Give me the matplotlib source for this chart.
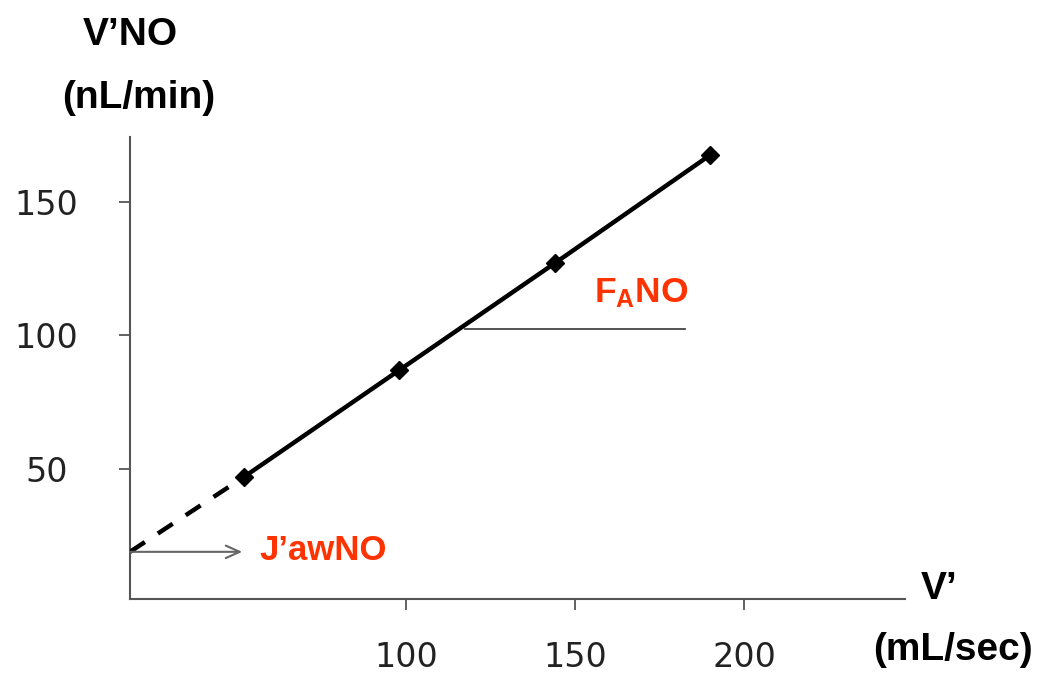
import numpy as np
import matplotlib
matplotlib.use("Agg")
import matplotlib.pyplot as plt

plt.rcParams['font.family'] = ['Liberation Sans', 'DejaVu Sans']
plt.rcParams['mathtext.fontset'] = 'custom'
plt.rcParams['mathtext.bf'] = 'Liberation Sans:bold'
plt.rcParams['mathtext.rm'] = 'Liberation Sans:bold'

# measured points (V' in mL/sec, V'NO in nL/min)
flow = [52, 98, 144, 190]
vno = [47, 87, 127, 167.5]
jaw_no = 19          # intercept, J'awNO
fa_level = 102.4     # level of the FANO slope guide
fa_x = [117.5, 182.5]
x_ticks = [100, 150, 200]
y_ticks = [50, 100, 150]

RED = '#ff3300'
AXC = '#555555'

fig = plt.figure(figsize=(10.39, 6.77), dpi=100)
ax = fig.add_axes([0.1251, 0.1152, 0.7459, 0.6824])
x0, x1 = 18.3, 247.6
ax.set_xlim(x0, x1)
ax.set_ylim(1.35, 174.2)

# solid line with markers
ax.plot(flow, vno, color='black', lw=3.2, marker='D', markersize=9.5,
        solid_capstyle='round', zorder=3)
# dashed extrapolation to the y axis
ax.plot([x0, flow[0]], [jaw_no, vno[0]], color='black', lw=3.2,
        linestyle=(0, (4, 3.5)), zorder=3)

# J'awNO arrow
ax.annotate('', xy=(51.5, jaw_no), xytext=(x0, jaw_no),
            arrowprops=dict(arrowstyle='->,head_length=1.0,head_width=0.45',
                            color='#666666', lw=1.5, shrinkA=0, shrinkB=0))
ax.text(56.5, 15.9, 'J\u2019awNO', color=RED, fontsize=25,
        fontweight='bold', va='baseline', ha='left')

# FANO guide
ax.plot(fa_x, [fa_level, fa_level], color='#444444', lw=1.3)
ax.text(169.5, 112.5, r'$\mathbf{F_{A}NO}$', color=RED, fontsize=25.5,
        va='baseline', ha='center')

for s in ['top', 'right']:
    ax.spines[s].set_visible(False)
for s in ['left', 'bottom']:
    ax.spines[s].set_color(AXC)
    ax.spines[s].set_linewidth(1.5)

ax.set_xticks(x_ticks)
ax.set_yticks(y_ticks)
ax.tick_params(axis='both', colors=AXC, length=8, width=1.3,
               labelcolor='#222222', labelsize=24)
ax.tick_params(axis='x', pad=22)
ax.tick_params(axis='y', pad=52)
for lab in ax.get_yticklabels():
    lab.set_fontfamily('DejaVu Sans')
    lab.set_horizontalalignment('center')
for lab in ax.get_xticklabels():
    lab.set_fontfamily('DejaVu Sans')

# axis titles
fig.text(130 / 1039, 1 - 45 / 677, 'V\u2019NO', fontsize=28,
         fontweight='bold', ha='center', va='baseline')
fig.text(139 / 1039, 1 - 108 / 677, '(nL/min)', fontsize=28,
         fontweight='bold', ha='center', va='baseline')
fig.text(939 / 1039, 1 - 599 / 677, 'V\u2019', fontsize=28,
         fontweight='bold', ha='center', va='baseline')
fig.text(953 / 1039, 1 - 660 / 677, '(mL/sec)', fontsize=28,
         fontweight='bold', ha='center', va='baseline')

fig.savefig('out.png', dpi=100)
